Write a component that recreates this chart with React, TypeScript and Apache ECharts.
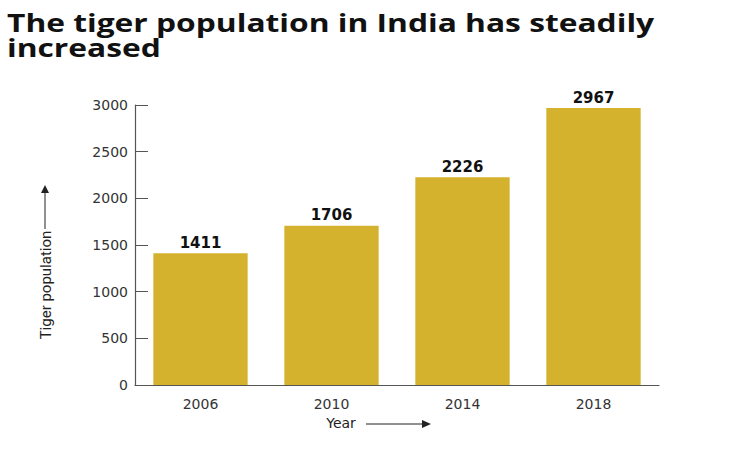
import React, { useEffect, useRef } from "react";
import * as echarts from "echarts";

const years = ["2006", "2010", "2014", "2018"];
const tigers = [1411, 1706, 2226, 2967];
const titleLines = ["The tiger population in India has steadily", "increased"];
const yTicks = [0, 500, 1000, 1500, 2000, 2500, 3000];

export default function App() {
  const ref = useRef<HTMLDivElement>(null);
  useEffect(() => {
    const chart = echarts.init(ref.current!, null, { renderer: "svg" });
    const titleGraphics = titleLines.map((t, i) => ({
      type: "text",
      x: 7,
      y: 9 + i * 25,
      scaleX: 1.27,
      style: {
        text: t,
        fontFamily: "Open Sans",
        fontWeight: "bold",
        fontSize: 25,
        fill: "#111",
        align: "left",
        verticalAlign: "top",
      },
    }));
    chart.setOption({
      animation: false,
      backgroundColor: "#ffffff",
      grid: { left: 135, right: 91, top: 105, bottom: 65 },
      xAxis: {
        type: "category",
        data: years,
        axisLine: { lineStyle: { color: "#555", width: 1.2 } },
        axisTick: { show: false },
        axisLabel: { color: "#333", fontSize: 14, fontFamily: "DejaVu Sans", margin: 12 },
      },
      yAxis: {
        type: "value",
        min: yTicks[0],
        max: yTicks[yTicks.length - 1],
        interval: 500,
        splitLine: { show: false },
        axisLine: { show: true, lineStyle: { color: "#555", width: 1.2 } },
        axisTick: { show: true, inside: true, length: 13, lineStyle: { color: "#555" } },
        axisLabel: {
          color: "#333",
          fontSize: 14,
          fontFamily: "DejaVu Sans",
          margin: 7,
          formatter: (v: number) => String(v),
        },
      },
      series: [
        {
          type: "bar",
          data: tigers,
          barCategoryGap: "28%",
          itemStyle: { color: "#D4B22E" },
          label: {
            show: true,
            position: "top",
            distance: 3,
            color: "#111",
            fontSize: 15,
            fontWeight: "bold",
            fontFamily: "DejaVu Sans",
          },
        },
      ],
      graphic: [
        ...titleGraphics,
        {
          type: "text",
          x: 46,
          y: 285,
          rotation: Math.PI / 2,
          style: {
            text: "Tiger population",
            fontSize: 15,
            fontFamily: "Liberation Sans Narrow, Roboto, sans-serif",
            fill: "#222",
            align: "center",
            verticalAlign: "middle",
          },
        },
        { type: "line", shape: { x1: 45, y1: 229, x2: 45, y2: 192 }, style: { stroke: "#222", lineWidth: 1 } },
        { type: "polygon", shape: { points: [[41, 193], [49, 193], [45, 185]] }, style: { fill: "#222" } },
        {
          type: "text",
          x: 341,
          y: 423,
          style: {
            text: "Year",
            fontSize: 14,
            fontFamily: "DejaVu Sans",
            fill: "#222",
            align: "center",
            verticalAlign: "middle",
          },
        },
        { type: "line", shape: { x1: 366, y1: 424, x2: 424, y2: 424 }, style: { stroke: "#222", lineWidth: 1 } },
        { type: "polygon", shape: { points: [[422, 420], [422, 428], [431, 424]] }, style: { fill: "#222" } },
      ],
    });
    return () => chart.dispose();
  }, []);
  return (
    <div
      ref={ref}
      style={{ position: "fixed", left: 0, top: 0, width: 750, height: 450 }}
    />
  );
}
